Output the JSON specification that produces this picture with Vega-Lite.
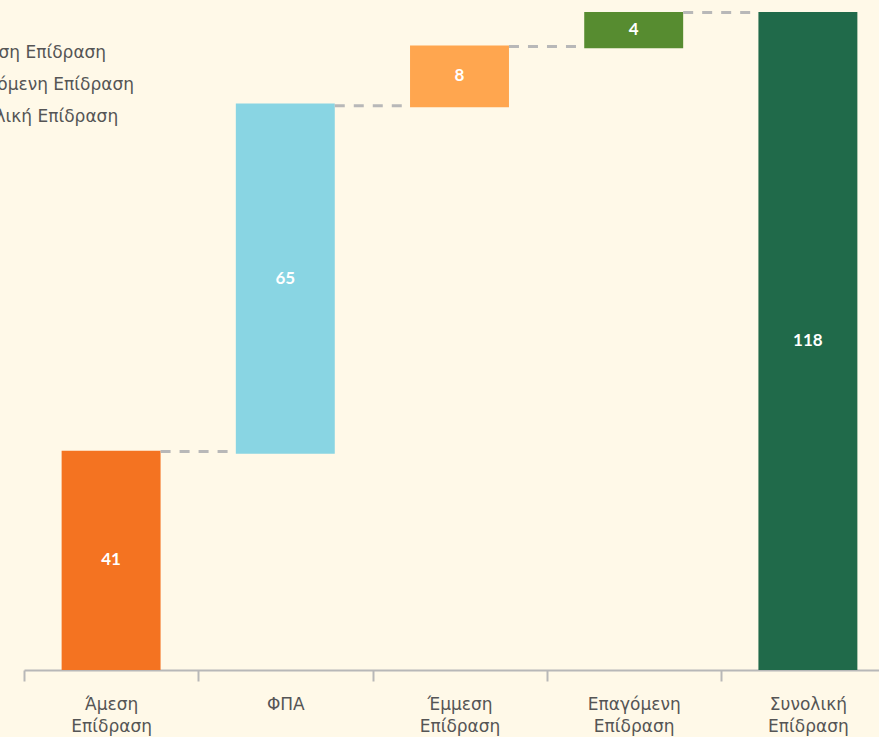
{
  "$schema": "https://vega.github.io/schema/vega-lite/v6.json",
  "width": 855,
  "height": 658,
  "autosize": {"type": "none"},
  "padding": {"left": 24, "top": 12, "right": 0, "bottom": 67},
  "background": "#FFF9E8",
  "config": {"view": {"stroke": null}, "font": "DejaVu Sans"},
  "datasets": {
    "bars": [
      {"category": "Άμεση Επίδραση", "start": 0, "end": 39.3, "label": "41"},
      {"category": "ΦΠΑ", "start": 38.8, "end": 101.6, "label": "65"},
      {"category": "Έμμεση Επίδραση", "start": 100.9, "end": 112.0, "label": "8"},
      {"category": "Επαγόμενη Επίδραση", "start": 111.5, "end": 118, "label": "4"},
      {"category": "Συνολική Επίδραση", "start": 0, "end": 118, "label": "118"}
    ],
    "connectors": [
      {"from": "Άμεση Επίδραση", "to": "ΦΠΑ", "level": 39.2},
      {"from": "ΦΠΑ", "to": "Έμμεση Επίδραση", "level": 101.2},
      {"from": "Έμμεση Επίδραση", "to": "Επαγόμενη Επίδραση", "level": 111.8},
      {"from": "Επαγόμενη Επίδραση", "to": "Συνολική Επίδραση", "level": 117.9}
    ]
  },
  "layer": [
    {
      "data": {"name": "bars"},
      "mark": {"type": "bar"},
      "encoding": {
        "x": {
          "field": "category",
          "type": "nominal",
          "sort": null,
          "scale": {
            "domain": ["Άμεση Επίδραση", "ΦΠΑ", "Έμμεση Επίδραση", "Επαγόμενη Επίδραση", "Συνολική Επίδραση"],
            "range": [0, 871],
            "paddingInner": 0.432,
            "paddingOuter": 0.216
          },
          "axis": {
            "title": null,
            "labelAngle": 0,
            "labelExpr": "split(datum.label, ' ')",
            "labelFontSize": 17,
            "labelColor": "#555555",
            "labelLineHeight": 22,
            "labelPadding": 15,
            "domainColor": "#B8B8B8",
            "domainWidth": 2,
            "tickColor": "#B8B8B8",
            "tickWidth": 2,
            "tickSize": 11,
            "tickOffset": -87,
            "labelOffset": 87,
            "grid": false
          }
        },
        "y": {
          "field": "start",
          "type": "quantitative",
          "scale": {"domain": [0, 118], "nice": false},
          "axis": null
        },
        "y2": {"field": "end"},
        "color": {
          "field": "category",
          "type": "nominal",
          "scale": {
            "domain": ["Άμεση Επίδραση", "ΦΠΑ", "Έμμεση Επίδραση", "Επαγόμενη Επίδραση", "Συνολική Επίδραση"],
            "range": ["#F47321", "#89D5E3", "#FFA64F", "#578C30", "#206A4A"]
          },
          "legend": {
            "title": null,
            "orient": "none",
            "legendX": -94,
            "legendY": -32,
            "direction": "vertical",
            "symbolType": "square",
            "symbolSize": 200,
            "labelFontSize": 17,
            "labelColor": "#555555",
            "labelOffset": 8,
            "rowPadding": 14,
            "labelLimit": 400
          }
        }
      }
    },
    {
      "data": {"name": "connectors"},
      "mark": {"type": "rule", "strokeDash": [10, 9], "strokeWidth": 3, "color": "#B8B8B8"},
      "encoding": {
        "x": {"field": "from", "type": "nominal", "bandPosition": 1},
        "x2": {"field": "to", "bandPosition": 0},
        "y": {"field": "level", "type": "quantitative"}
      }
    },
    {
      "data": {"name": "bars"},
      "transform": [{"calculate": "(datum.start + datum.end) / 2", "as": "mid"}],
      "mark": {"type": "text", "color": "#FFFFFF", "font": "Lato", "fontWeight": "bold", "fontSize": 17, "baseline": "middle", "align": "center"},
      "encoding": {
        "x": {"field": "category", "type": "nominal", "bandPosition": 0.5},
        "y": {"field": "mid", "type": "quantitative"},
        "text": {"field": "label"}
      }
    }
  ]
}
